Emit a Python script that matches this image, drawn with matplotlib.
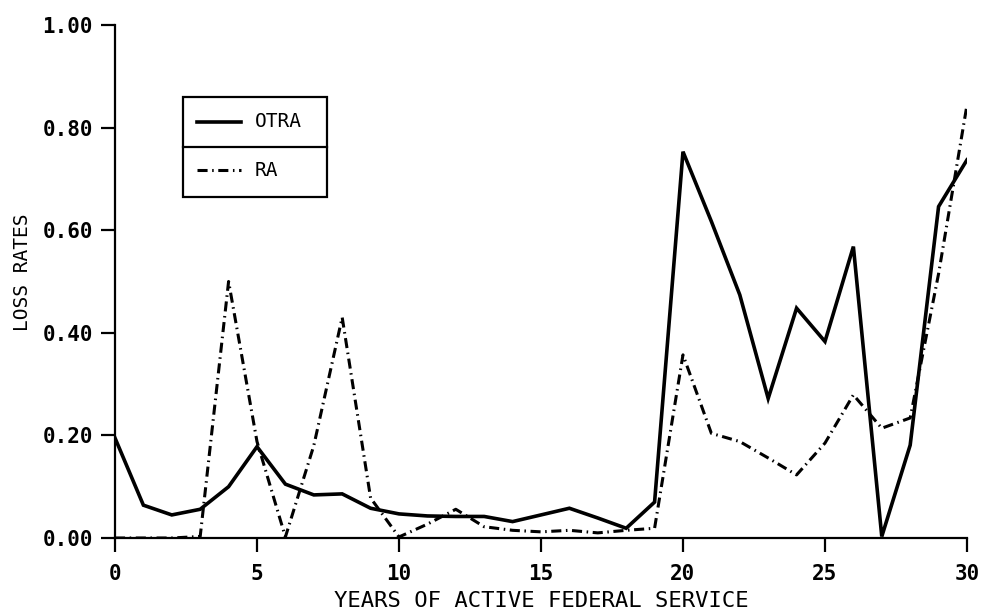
import matplotlib
matplotlib.use("Agg")
import matplotlib.pyplot as plt
from matplotlib.patches import Rectangle
from matplotlib.lines import Line2D

years = list(range(0, 31))
otra = [0.195, 0.064, 0.045, 0.056, 0.100, 0.178, 0.105, 0.084, 0.086, 0.058,
        0.047, 0.043, 0.042, 0.042, 0.032, 0.045, 0.058, 0.039, 0.019, 0.070,
        0.753, 0.617, 0.474, 0.272, 0.448, 0.383, 0.568, 0.003, 0.181, 0.646,
        0.737]
ra = [0.000, 0.000, 0.000, 0.003, 0.500, 0.188, 0.002, 0.180, 0.430, 0.078,
      0.002, 0.027, 0.056, 0.022, 0.015, 0.012, 0.015, 0.010, 0.015, 0.019,
      0.357, 0.204, 0.188, 0.156, 0.123, 0.185, 0.279, 0.214, 0.234, 0.515,
      0.844]
series_names = ["OTRA", "RA"]
xticks = [0, 5, 10, 15, 20, 25, 30]
yticks = [0.0, 0.2, 0.4, 0.6, 0.8, 1.0]

mono = "DejaVu Sans Mono"
fig = plt.figure(figsize=(9.82, 6.12), dpi=100)
ax = fig.add_axes([0.1171, 0.1209, 0.8676, 0.8383])

dashdot = (0, (3.3, 1.5, 0.5, 1.5))
ax.plot(years, otra, color="black", lw=2.6, solid_joinstyle="miter")
ax.plot(years, ra, color="black", lw=2.2, linestyle=dashdot)

ax.set_xlim(0, 30)
ax.set_ylim(0, 1.0)
ax.set_xticks(xticks)
ax.set_yticks(yticks)
ax.set_xticklabels([str(v) for v in xticks], family=mono, fontweight="bold", fontsize=15)
ax.set_yticklabels(["%.2f" % v for v in yticks], family=mono, fontweight="bold", fontsize=15)
ax.tick_params(axis="both", direction="out", length=10, width=1.6, color="black")
ax.tick_params(axis="x", pad=9)
ax.tick_params(axis="y", pad=6)
for s in ["top", "right"]:
    ax.spines[s].set_visible(False)
for s in ["left", "bottom"]:
    ax.spines[s].set_linewidth(1.6)
ax.margins(0)

ax.set_xlabel("YEARS OF ACTIVE FEDERAL SERVICE", family=mono, fontsize=16)
ax.xaxis.set_label_coords(0.5, -0.103)
ax.set_ylabel("LOSS RATES", family=mono, fontsize=14, va="center", ha="center")
ax.yaxis.set_label_coords(-0.108, 0.518)

# legend box with two rows
x0, x1 = 0.0798, 0.2488
y0, y1, ymid = 0.6647, 0.8596, 0.7622
ax.add_patch(Rectangle((x0, y0), x1 - x0, y1 - y0, transform=ax.transAxes,
                       fill=False, lw=1.6, ec="black", clip_on=False))
ax.add_line(Line2D([x0, x1], [ymid, ymid], transform=ax.transAxes, color="black", lw=1.6))
rows = [(0.8115, "-", 2.6), (0.7173, dashdot, 2.2)]
for (yc, ls, lw), name in zip(rows, series_names):
    ax.add_line(Line2D([0.0962, 0.1479], [yc, yc], transform=ax.transAxes,
                       color="black", lw=lw, linestyle=ls))
    ax.text(0.1643, yc, name, transform=ax.transAxes, family=mono,
            fontsize=14, va="center", ha="left")

fig.savefig("out.png", dpi=100)
